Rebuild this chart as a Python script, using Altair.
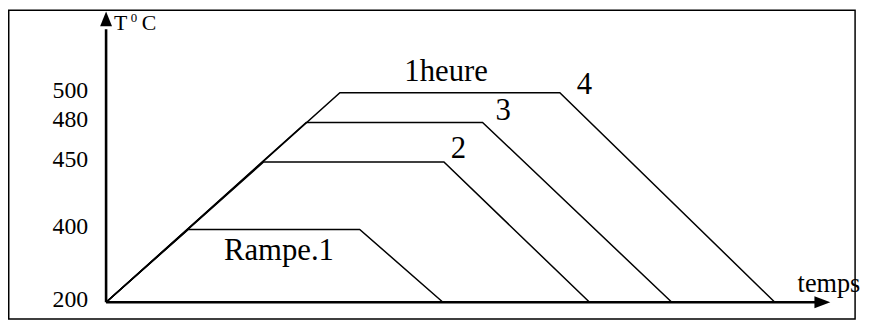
import altair as alt
import pandas as pd

# ---- data (time in arbitrary units, temperature in °C) ----
curve_id = [1, 2, 3, 4]
plateau_T = [400, 450, 480, 500]
ramp_end_t = [83, 159, 202, 236]
plateau_end_t = [256, 341, 380, 458]
cool_end_t = [340, 488, 571, 675]
T_start = 200

tick_values = [200, 400, 450, 480, 500]

label_text = ["Rampe.1", "2", "3", "4", "1heure"]
label_t = [119, 348, 393, 475, 301]
label_T = [316, 453, 481.3, 499.3, 508]

axis_t_end = 723

# ---- build tables ----
rows = []
for c, T, tr, tp, tc in zip(curve_id, plateau_T, ramp_end_t, plateau_end_t, cool_end_t):
    for k, (t, temp) in enumerate([(0, T_start), (tr, T), (tp, T), (tc, T_start)]):
        rows.append({"curve": c, "order": k, "t": t, "T": temp})
curves = pd.DataFrame(rows)

ticks = pd.DataFrame({"T": tick_values, "t": [-18] * len(tick_values),
                      "label": [str(v) for v in tick_values]})
labels = pd.DataFrame({"label": label_text, "t": label_t, "T": label_T})

xs = alt.Scale(domain=[-99, 765])
ys = alt.Scale(domain=[200, 400, 450, 480, 500], range=[295.5, 222, 154, 114, 84])

def X(field="t"):
    return alt.X(f"{field}:Q", scale=xs, axis=None)

def Y(field="T"):
    return alt.Y(f"{field}:Q", scale=ys, axis=None)

FONT = "'Liberation Serif', 'Times New Roman', serif"

one = pd.DataFrame({"t": [0], "T": [T_start], "t_end": [axis_t_end]})

border = alt.Chart(one).mark_rect(filled=False, stroke="black", strokeWidth=1.5).encode(
    x=alt.value(0.75), x2=alt.value(855), y=alt.value(0.75), y2=alt.value(312.5)
)

yaxis = alt.Chart(one).mark_rule(color="black", strokeWidth=2.6).encode(
    x=X(), y=Y(), y2=alt.value(20)
)
yarrow = alt.Chart(one).mark_point(
    shape="M-0.8,1L0,-1L0.8,1Z", size=225, filled=True, color="black", opacity=1, strokeWidth=0
).encode(x=X(), y=alt.value(9.5))

xaxis = alt.Chart(one).mark_rule(color="black", strokeWidth=2.6).encode(
    x=X(), x2=alt.X2("t_end_rule:Q"), y=Y()
).transform_calculate(t_end_rule="datum.t_end - 7")
xarrow = alt.Chart(one).mark_point(
    shape="M-1,-0.75L1,0L-1,0.75Z", size=256, filled=True, color="black", opacity=1, strokeWidth=0
).encode(x=X("t_end"), y=Y())

lines = alt.Chart(curves).mark_line(color="black", strokeWidth=1.5).encode(
    x=X(), y=Y(), detail="curve:N", order="order:O"
)

tick_text = alt.Chart(ticks).mark_text(
    font=FONT, fontSize=24, align="right", baseline="middle", dy=-2, color="black"
).encode(x=X(), y=Y(), text="label:N")

label_marks = alt.Chart(labels).mark_text(
    font=FONT, fontSize=31, align="left", baseline="alphabetic", color="black"
).encode(x=X(), y=Y(), text="label:N")

temps = alt.Chart(pd.DataFrame({"label": ["temps"], "t": [698], "T": [228.6]})).mark_text(
    font=FONT, fontSize=26.5, align="left", baseline="alphabetic", color="black"
).encode(x=X(), y=Y(), text="label:N")

ytitle_main = alt.Chart(pd.DataFrame({"label": ["T", "C"], "t": [8, 36], "T": [542.3, 542.3]})).mark_text(
    font=FONT, fontSize=22, align="left", baseline="alphabetic", color="black"
).encode(x=X(), y=Y(), text="label:N")
ytitle_sup = alt.Chart(pd.DataFrame({"label": ["0"], "t": [25], "T": [547.3]})).mark_text(
    font=FONT, fontSize=13, align="left", baseline="alphabetic", color="black"
).encode(x=X(), y=Y(), text="label:N")

chart = alt.layer(
    border, lines, yaxis, yarrow, xaxis, xarrow, tick_text, label_marks, temps, ytitle_main, ytitle_sup
).properties(
    width=864, height=319, autosize=alt.AutoSizeParams(type="none"), padding=0, background="white"
).configure_view(stroke=None)

chart.save("out.html", embed_options={"renderer": "svg", "actions": False})
